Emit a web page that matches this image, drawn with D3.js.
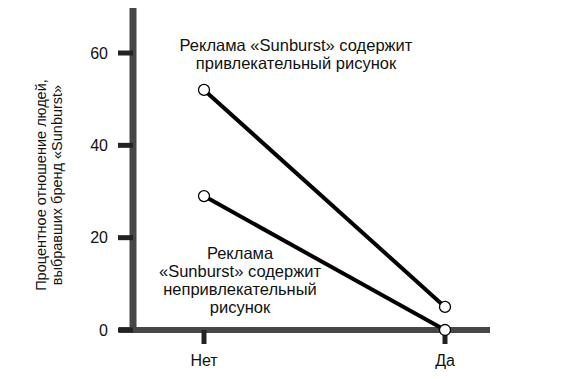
<!DOCTYPE html>
<html>
<head>
<meta charset="utf-8">
<script src="https://cdn.jsdelivr.net/npm/d3@7"></script>
<style>
  body { margin: 0; background: #fff; }
  text { font-family: "Liberation Sans", Arial, sans-serif; fill: #111; }
</style>
</head>
<body>
<svg id="chart"></svg>
<script>
// categories and series
const categories = ['Нет', 'Да'];
const attractive = [52, 5];
const unattractive = [29, 0];
const yTicks = [0, 20, 40, 60];

const width = 576, height = 379;
const svg = d3.select('#chart').attr('width', width).attr('height', height);

const x = d3.scalePoint().domain(categories).range([204, 445]);
const y = d3.scaleLinear().domain([0, 60]).range([330, 53]);

const axisColor = '#474747';

// y axis line
svg.append('line')
    .attr('x1', 133).attr('x2', 133)
    .attr('y1', 8).attr('y2', y(0) + 3)
    .attr('stroke', axisColor).attr('stroke-width', 7);

// x axis line
svg.append('line')
    .attr('x1', 119).attr('x2', 490)
    .attr('y1', y(0)).attr('y2', y(0))
    .attr('stroke', axisColor).attr('stroke-width', 6);

// y ticks
const yt = svg.append('g').selectAll('g').data(yTicks).enter().append('g');
yt.append('line')
    .attr('x1', 118).attr('x2', 133)
    .attr('y1', d => y(d)).attr('y2', d => y(d))
    .attr('stroke', '#222').attr('stroke-width', 5);
yt.append('text')
    .attr('x', 108).attr('y', d => y(d))
    .attr('dy', '0.35em')
    .attr('text-anchor', 'end')
    .attr('font-size', 16)
    .text(d => d);

// x ticks
const xt = svg.append('g').selectAll('g').data(categories).enter().append('g');
xt.append('line')
    .attr('x1', d => x(d)).attr('x2', d => x(d))
    .attr('y1', y(0)).attr('y2', y(0) + 14)
    .attr('stroke', '#222').attr('stroke-width', 5);
xt.append('text')
    .attr('x', d => x(d)).attr('y', 366)
    .attr('text-anchor', 'middle')
    .attr('font-size', 16)
    .text(d => d);

// y axis label
const yl = svg.append('text')
    .attr('transform', 'translate(50,185) rotate(-90)')
    .attr('text-anchor', 'middle')
    .attr('font-size', 14.5);
yl.append('tspan').attr('x', 0).attr('dy', '-0.25em').text('Процентное отношение людей,');
yl.append('tspan').attr('x', 0).attr('dy', '1.1em').text('выбравших бренд «Sunburst»');

// lines
const line = d3.line().x((d, i) => x(categories[i])).y(d => y(d));
[attractive, unattractive].forEach(series => {
    svg.append('path')
        .attr('d', line(series))
        .attr('fill', 'none')
        .attr('stroke', '#000')
        .attr('stroke-width', 4);
});
[attractive, unattractive].forEach(series => {
    svg.append('g').selectAll('circle').data(series).enter().append('circle')
        .attr('cx', (d, i) => x(categories[i]))
        .attr('cy', d => y(d))
        .attr('r', 5.5)
        .attr('fill', '#fff')
        .attr('stroke', '#000')
        .attr('stroke-width', 1.3);
});

// annotations
function note(lines, cx, top) {
    const t = svg.append('text')
        .attr('text-anchor', 'middle')
        .attr('font-size', 16.5);
    lines.forEach((s, i) => {
        t.append('tspan').attr('x', cx).attr('y', top + i * 18).text(s);
    });
}
note(['Реклама «Sunburst» содержит', 'привлекательный рисунок'], 296, 51);
note(['Реклама', '«Sunburst» содержит', 'непривлекательный', 'рисунок'], 240, 259);
</script>
</body>
</html>
